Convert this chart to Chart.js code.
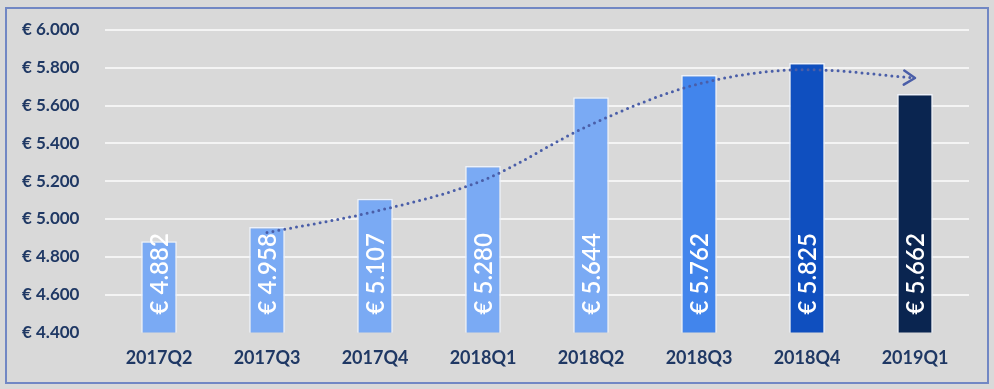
<!DOCTYPE html>
<html>
<head>
<meta charset="utf-8">
<script src="https://cdn.jsdelivr.net/npm/chart.js@4/dist/chart.umd.min.js"></script>
<style>
  html, body { margin: 0; padding: 0; background: #d9d9d9; }
  #wrap { width: 994px; height: 389px; position: relative; }
</style>
</head>
<body>
<div id="wrap"><canvas id="c" width="994" height="389"></canvas></div>
<script>
const categories = ['2017Q2', '2017Q3', '2017Q4', '2018Q1', '2018Q2', '2018Q3', '2018Q4', '2019Q1'];
const values = [4882, 4958, 5107, 5280, 5644, 5762, 5825, 5662];
const barColors = ['#7aaaf4', '#7aaaf4', '#7aaaf4', '#7aaaf4', '#7aaaf4', '#4285ec', '#0f4fbf', '#0a2550'];
const trendValues = [null, 4928, 5040, 5205, 5500, 5715, 5790, 5746];
const yMin = 4400, yMax = 6000, yStep = 200;

const fmt = v => '€ ' + String(v).replace(/\B(?=(\d{3})+(?!\d))/g, '.');
const navy = '#1f3864';
const trendColor = '#4a5ea8';

const framePlugin = {
  id: 'frame',
  beforeDraw(chart) {
    const ctx = chart.ctx;
    ctx.save();
    ctx.fillStyle = '#d9d9d9';
    ctx.fillRect(0, 0, chart.width, chart.height);
    ctx.strokeStyle = '#7187c4';
    ctx.lineWidth = 2;
    ctx.strokeRect(6, 8, chart.width - 12, chart.height - 14);
    ctx.restore();
  }
};

const labelPlugin = {
  id: 'barLabels',
  afterDraw(chart) {
    const ctx = chart.ctx;
    const yScale = chart.scales.y;
    const xScale = chart.scales.x;
    const basePx = yScale.getPixelForValue(yMin);
    ctx.save();
    ctx.fillStyle = '#ffffff';
    ctx.font = '600 24px Lato, "Open Sans", sans-serif';
    ctx.textAlign = 'left';
    ctx.textBaseline = 'middle';
    values.forEach((v, i) => {
      const x = xScale.getPixelForValue(i);
      ctx.save();
      ctx.translate(x, basePx - 18);
      ctx.rotate(-Math.PI / 2);
      ctx.fillText(fmt(v), 0, 1);
      ctx.restore();
    });
    // arrow head at end of trend line
    const lm = chart.getDatasetMeta(1);
    const pts = lm.data;
    const last = pts[pts.length - 1];
    const prev = pts[pts.length - 2];
    const ang = Math.atan2(last.y - prev.y, last.x - prev.x) * 0.5;
    ctx.strokeStyle = trendColor;
    ctx.lineWidth = 2.5;
    ctx.lineCap = 'round';
    ctx.lineJoin = 'round';
    ctx.translate(last.x, last.y);
    ctx.rotate(ang);
    ctx.beginPath();
    ctx.moveTo(-11, -7);
    ctx.lineTo(0, 0);
    ctx.lineTo(-11, 7);
    ctx.stroke();
    ctx.restore();
  }
};

new Chart(document.getElementById('c'), {
  data: {
    labels: categories,
    datasets: [
      {
        type: 'bar',
        data: values,
        backgroundColor: barColors,
        borderColor: '#eef2fa',
        borderWidth: 1.5,
        categoryPercentage: 1,
        barPercentage: 0.33,
        order: 2
      },
      {
        type: 'line',
        data: trendValues,
        borderColor: trendColor,
        borderWidth: 3,
        borderDash: [0, 6],
        borderCapStyle: 'round',
        pointRadius: 0,
        tension: 0.4,
        cubicInterpolationMode: 'monotone',
        spanGaps: true,
        order: 1
      }
    ]
  },
  options: {
    responsive: false,
    animation: false,
    devicePixelRatio: 1,
    layout: { padding: { left: 22, right: 25, top: 30, bottom: 5 } },
    plugins: { legend: { display: false }, tooltip: { enabled: false } },
    scales: {
      x: {
        grid: { display: false, drawTicks: false },
        border: { display: false },
        ticks: {
          color: navy,
          font: { family: 'Lato, "Open Sans", sans-serif', size: 18, weight: 'bold' },
          padding: 15
        }
      },
      y: {
        min: yMin,
        max: yMax,
        afterFit(scale) { scale.width = 83; },
        border: { display: false },
        grid: {
          drawTicks: false,
          lineWidth: 2,
          color: ctx => (ctx.tick && ctx.tick.value === yMin) ? 'rgba(0,0,0,0)' : '#f4f4f4'
        },
        ticks: {
          stepSize: yStep,
          crossAlign: 'far',
          padding: 0,
          color: navy,
          font: { family: 'Lato, "Open Sans", sans-serif', size: 17, weight: 'bold' },
          callback: v => fmt(v)
        }
      }
    }
  },
  plugins: [framePlugin, labelPlugin]
});
</script>
</body>
</html>
